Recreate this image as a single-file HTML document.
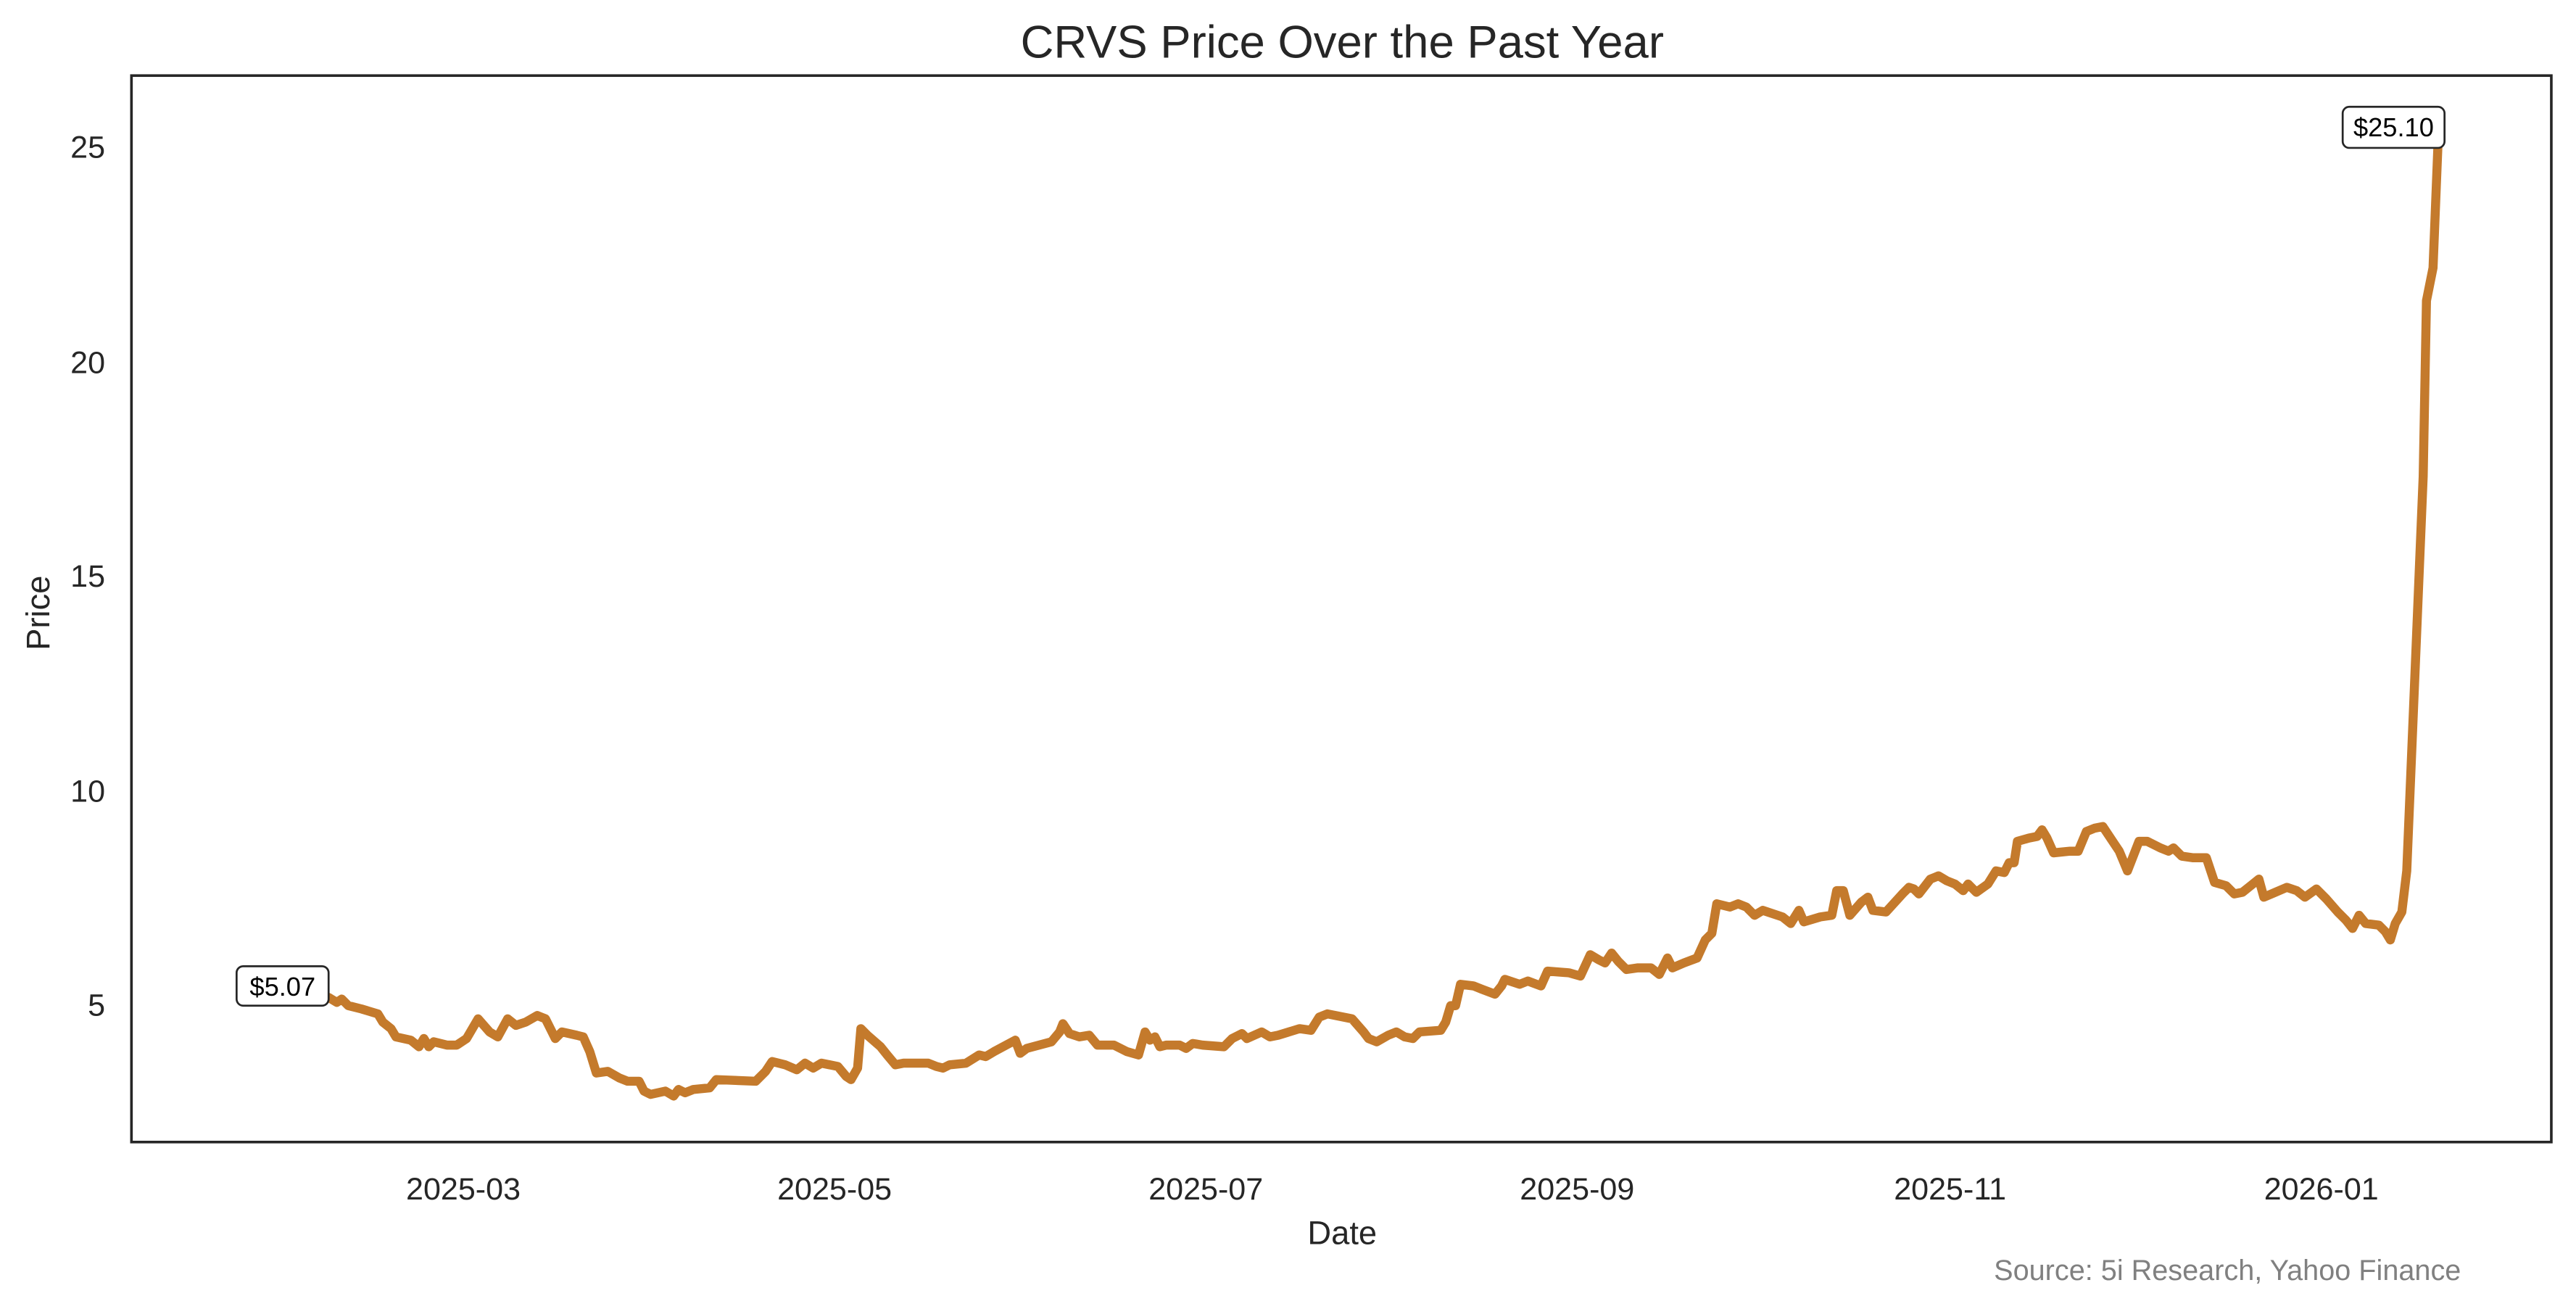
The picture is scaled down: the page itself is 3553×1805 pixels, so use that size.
<!DOCTYPE html>
<html><head><style>html,body{margin:0;padding:0;background:#fff}svg{display:block}</style></head>
<body>
<svg xmlns="http://www.w3.org/2000/svg" width="3553" height="1805" viewBox="0 0 1568 796.6" font-family="'Liberation Sans',sans-serif">
<rect width="1568" height="796.6" fill="#fff"/>
<text x="817" y="35" font-size="28" text-anchor="middle" fill="#262626">CRVS Price Over the Past Year</text>
<rect x="80" y="46" width="1473" height="649" fill="none" stroke="#262626" stroke-width="1.6"/>
<g font-size="19" fill="#262626" text-anchor="end">
<text x="64" y="618">5</text><text x="64" y="488">10</text><text x="64" y="357">15</text><text x="64" y="227">20</text><text x="64" y="96">25</text>
</g>
<g font-size="19" fill="#262626" text-anchor="middle">
<text x="282" y="730">2025-03</text><text x="508" y="730">2025-05</text><text x="734" y="730">2025-07</text><text x="960" y="730">2025-09</text><text x="1187" y="730">2025-11</text><text x="1413" y="730">2026-01</text>
</g>
<text x="817" y="757" font-size="20" fill="#262626" text-anchor="middle">Date</text>
<text transform="translate(30,373) rotate(-90)" font-size="20" fill="#262626" text-anchor="middle">Price</text>
<text x="1498" y="779" font-size="17.5" fill="#808080" text-anchor="end">Source: 5i Research, Yahoo Finance</text>
<polyline fill="none" stroke="#c47a2c" stroke-width="5.5" stroke-linejoin="round" stroke-linecap="round" points="200,607 205,610 208,608 212,612 220,614 230,617 233,622 238,626 241,631 250,633 255,637 258,632 261,637 264,634 272,636 278,636 284,632 291,620 298,628 303,631 309,620 314,624 320,622 327,618 332,620 338,632 342,628 351,630 355,631 359,640 363,653 370,652 377,656 382,658 389,658 392,664 396,666 405,664 410,667 413,663 417,665 422,663 432,662 436,657 460,658 466,652 470,646 478,648 485,651 490,647 495,650 500,647 510,649 515,655 518,657 522,650 524,626 528,630 536,637 540,642 545,648 550,647 565,647 570,649 574,650 578,648 588,647 596,642 600,643 605,640 618,633 621,641 625,638 640,634 645,628 647,623 651,629 657,631 663,630 668,636 678,636 686,640 693,642 697,628 700,633 703,631 706,637 710,636 718,636 722,638 726,635 732,636 745,637 750,632 756,629 759,632 768,628 773,631 778,630 791,626 798,627 803,619 808,617 823,620 830,628 833,632 838,634 845,630 850,628 855,631 860,632 864,628 877,627 880,622 883,612 886,612 889,599 897,600 902,602 910,605 914,600 916,596 925,599 930,597 938,600 942,591 955,592 962,594 968,581 973,584 977,586 981,580 985,585 990,590 997,589 1005,589 1010,593 1015,583 1018,589 1025,586 1033,583 1038,572 1042,568 1045,550 1053,552 1058,550 1063,552 1068,557 1073,554 1085,558 1090,562 1095,554 1098,561 1108,558 1115,557 1118,542 1122,542 1126,557 1133,549 1137,546 1140,554 1148,555 1158,544 1162,540 1165,541 1168,544 1175,535 1180,533 1185,536 1190,538 1195,542 1198,538 1203,543 1210,538 1215,530 1220,531 1223,525 1226,525 1228,512 1235,510 1240,509 1243,505 1246,510 1250,519 1260,518 1265,518 1270,506 1275,504 1280,503 1290,518 1295,530 1302,512 1307,512 1315,516 1320,518 1323,516 1328,521 1335,522 1343,522 1348,537 1355,539 1360,544 1365,543 1370,539 1375,535 1378,546 1385,543 1392,540 1398,542 1403,546 1410,541 1416,547 1423,555 1428,560 1432,565 1436,557 1440,562 1448,563 1452,567 1455,572 1458,562 1462,555 1465,530 1470,410 1475,290 1477,183 1481,163 1484,88"/>
<rect x="144" y="588" width="56" height="24" rx="4" fill="#fff" stroke="#262626" stroke-width="1.2"/>
<text x="172" y="606" font-size="16" fill="#000" text-anchor="middle">$5.07</text>
<rect x="1426" y="65" width="62" height="25" rx="4" fill="#fff" stroke="#262626" stroke-width="1.2"/>
<text x="1457" y="83" font-size="16" fill="#000" text-anchor="middle">$25.10</text>
</svg>
</body></html>
